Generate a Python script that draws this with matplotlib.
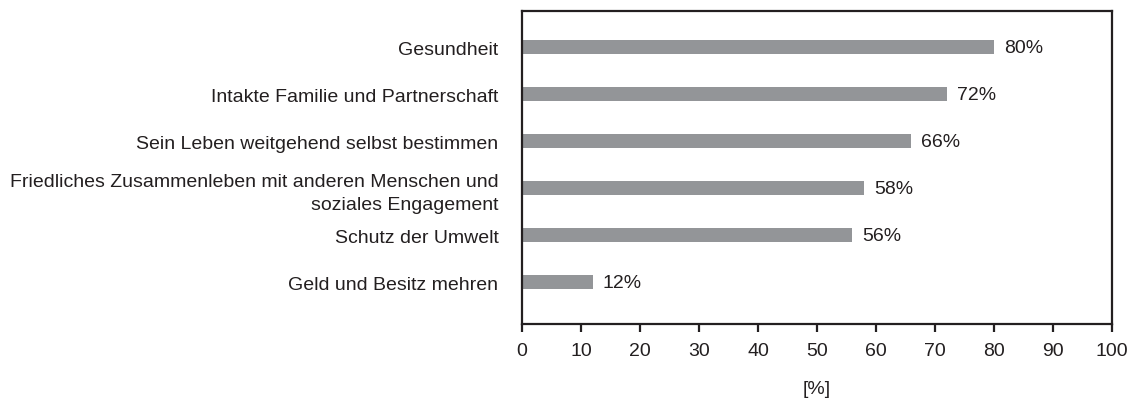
import numpy as np
import matplotlib.pyplot as plt

plt.rcParams['font.family'] = ['Liberation Sans', 'DejaVu Sans']

categories = [
    'Gesundheit',
    'Intakte Familie und Partnerschaft',
    'Sein Leben weitgehend selbst bestimmen',
    'Friedliches Zusammenleben mit anderen Menschen und\nsoziales Engagement',
    'Schutz der Umwelt',
    'Geld und Besitz mehren',
]
values = [80, 72, 66, 58, 56, 12]
xticks = [0, 10, 20, 30, 40, 50, 60, 70, 80, 90, 100]

text_col = '#231f20'
bar_col = '#939598'
fs = 14

fig = plt.figure(figsize=(11.35, 4.02), dpi=100)
ax = fig.add_axes([522 / 1135, 1 - 325 / 402, 590 / 1135, 313 / 402])

y = np.arange(len(categories))
ax.barh(y, values, height=0.3, color=bar_col, zorder=2)
for yi, v in zip(y, values):
    ax.text(v + 1.7, yi, f'{v}%', va='center', ha='left', fontsize=fs, color=text_col)

ax.set_xlim(0, 100)
ax.set_ylim(5.89, -0.77)
ax.set_xticks(xticks)
ax.set_yticks(y)
ax.set_yticklabels(categories, fontsize=fs, color=text_col, linespacing=1.45)
ax.tick_params(axis='y', length=0, pad=17)
ax.tick_params(axis='x', length=6, width=1.6, color=text_col, labelsize=fs,
               labelcolor=text_col, pad=7)
ax.set_xlabel('[%]', fontsize=fs, color=text_col, labelpad=15)
for s in ax.spines.values():
    s.set_linewidth(1.6)
    s.set_color(text_col)

fig.savefig('out.png', dpi=100)
